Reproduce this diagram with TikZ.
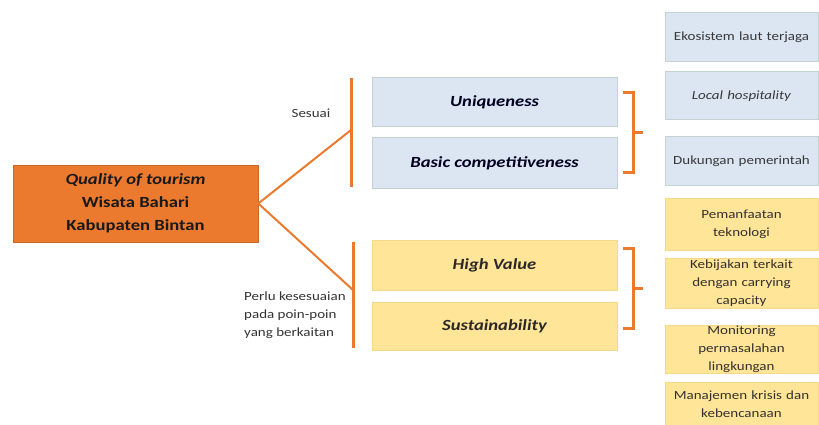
\documentclass[tikz,border=0pt]{standalone}
\usepackage{fontspec}
\setmainfont[FakeStretch=1.2]{Carlito}
\usetikzlibrary{positioning}
\definecolor{oranye}{HTML}{EC7A2E}
\definecolor{biru}{HTML}{DCE6F2}
\definecolor{birutepi}{HTML}{C3D3CF}
\definecolor{kuning}{HTML}{FFE597}
\definecolor{kuningtepi}{HTML}{F3D988}
\tikzset{
  mainbox/.style={draw=oranye!85!black, fill=oranye, line width=0.6pt, minimum width=245pt, minimum height=77pt, align=center, inner sep=0pt, text=black!90, font=\fontsize{15.5}{23}\selectfont\bfseries},
  midblue/.style={draw=birutepi, fill=biru, line width=1pt, minimum width=245pt, minimum height=49pt, inner sep=0pt, text=black!80!blue!60!black, font=\fontsize{15.5}{19}\selectfont\bfseries\itshape},
  midyellow/.style={midblue, draw=kuningtepi, fill=kuning, text=black!90!yellow!40!black},
  sideblue/.style={draw=birutepi, fill=biru, line width=1pt, minimum width=153pt, inner sep=0pt, text width=148pt, align=center, text=black!78, font=\fontsize{12.5}{18}\selectfont},
  sideyellow/.style={sideblue, draw=kuningtepi, fill=kuning, text=black!80!yellow!40!black},
  bar/.style={draw=oranye, line width=3pt},
  link/.style={draw=oranye, line width=2pt},
  brace/.style={draw=oranye, line width=3pt, line join=miter},
  note/.style={text=black!80, font=\fontsize{12.5}{18}\selectfont}
}
\begin{document}
\begin{tikzpicture}[x=1pt,y=-1pt]
  \useasboundingbox (0,0) rectangle (819,425);
  %%%%% START %%%%%

  \node[mainbox] (quality) at (135.5,203.5) {\textit{Quality of tourism}\\Wisata Bahari\\Kabupaten Bintan};

  \coordinate (sesuai) at (351,130);
  \coordinate (perlu) at (353,290);
  \draw[bar] (351,78) -- (351,187);
  \draw[bar] (353,242) -- (353,348);
  \draw[link] (quality.east) -- (sesuai);
  \draw[link] (quality.east) -- (perlu);

  \node[note] (lblsesuai) at (311,113) {Sesuai};
  \node[note, anchor=north west, align=left, inner sep=0pt] (lblperlu) at (244,292) {Perlu kesesuaian\\pada poin-poin\\yang berkaitan};

  \node[midblue, minimum height=49pt] (unique) at (494.5,102.5) {Uniqueness};
  \node[midblue, minimum height=50pt] (basic) at (494.5,163) {Basic competitiveness};
  \node[midyellow, minimum height=50pt] (high) at (494.5,265) {High Value};
  \node[midyellow, minimum height=48pt] (sustain) at (494.5,326) {Sustainability};

  \draw[brace] (623,93) -- (633,93) -- (633,172) -- (623,172);
  \draw[brace] (633,133) -- (643,133);
  \draw[brace] (623,248) -- (633,248) -- (633,328) -- (623,328);
  \draw[brace] (633,288) -- (643,288);

  \node[sideblue, minimum height=49pt] (ekosistem) at (741.5,37.5) {Ekosistem laut terjaga};
  \node[sideblue, minimum height=48pt] (lokal) at (741.5,96) {\textit{Local hospitality}};
  \node[sideblue, minimum height=48pt] (dukungan) at (741.5,161) {Dukungan pemerintah};
  \node[sideyellow, minimum height=52pt] (teknologi) at (741.5,224) {Pemanfaatan\\teknologi};
  \node[sideyellow, minimum height=50pt] (kebijakan) at (741.5,283) {Kebijakan terkait\\dengan carrying\\capacity};
  \node[sideyellow, minimum height=48pt] (monitoring) at (741.5,349) {Monitoring\\permasalahan\\lingkungan};
  \node[sideyellow, minimum height=44pt] (krisis) at (741.5,404) {Manajemen krisis dan\\kebencanaan};

  %%%%% END %%%%%
\end{tikzpicture}
\end{document}
